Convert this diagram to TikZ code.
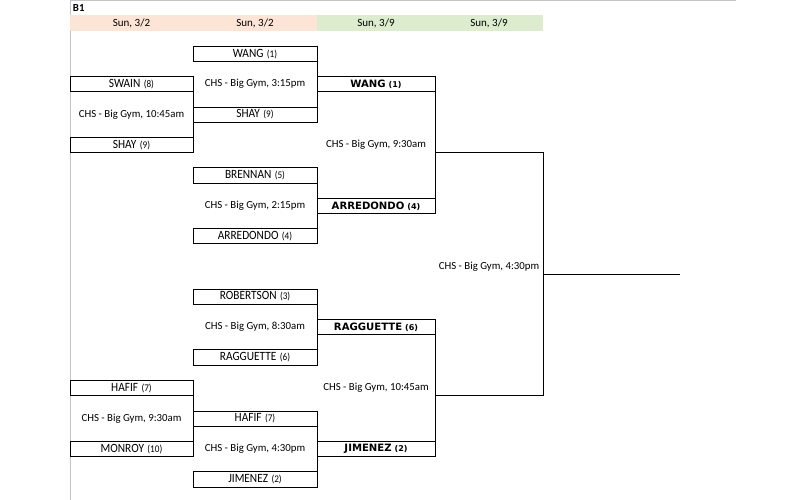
\documentclass[tikz,border=0pt]{standalone}
\usepackage{fontspec}
\setmainfont{Carlito}
\newfontfamily\boldface{DejaVu Sans}
\newfontfamily\namefont[FakeStretch=0.9]{Carlito}
\newfontfamily\seedfont[FakeStretch=0.9]{Carlito}
\definecolor{peach}{HTML}{FCE4D6}
\definecolor{pale}{HTML}{DDEBCF}
\definecolor{sheet}{HTML}{C4C4C4}
\newcommand{\nm}[2]{{\namefont\fontsize{12.6}{13}\selectfont #1}\hspace{3.4pt}{\seedfont\fontsize{10.2}{11}\selectfont (#2)}}
\newcommand{\wn}[2]{{\boldface\bfseries\fontsize{10.1}{12}\selectfont #1}\hspace{3pt}{\boldface\bfseries\fontsize{8}{10}\selectfont (#2)}}
\begin{document}
\begin{tikzpicture}[x=1pt,y=-1pt,
  line width=0.9pt,
  cbox/.style={draw=black, line width=0.9pt, minimum height=15.2pt, inner sep=0pt, anchor=center},
  w1/.style={cbox, minimum width=123pt},
  w2/.style={cbox, minimum width=124pt},
  w3/.style={cbox, minimum width=118pt},
  info/.style={inner sep=0pt, font=\fontsize{10.8}{12}\selectfont},
  hdr/.style={inner sep=0pt, font=\fontsize{11}{12}\selectfont}
]
\useasboundingbox (0,0) rectangle (805,500);
% sheet borders
\draw[sheet, line width=0.8pt] (70,0.5) -- (736,0.5);
\draw[sheet, line width=0.8pt] (70,0) -- (70,500);
% header
\node[anchor=west, inner sep=0pt, font=\bfseries\fontsize{10.8}{12}\selectfont] (title) at (72.5,8) {B1};
\fill[peach] (70.4,15) rectangle (317,31);
\fill[pale] (317,15) rectangle (543,31);
\node[hdr] (h1) at (131.5,23) {Sun, 3/2};
\node[hdr] (h2) at (255,23) {Sun, 3/2};
\node[hdr] (h3) at (376,23) {Sun, 3/9};
\node[hdr] (h4) at (489,23) {Sun, 3/9};
% column 1
\node[w1] (swain) at (131.5,84.2) {\nm{SWAIN}{8}};
\node[w1] (shayA) at (131.5,145.0) {\nm{SHAY}{9}};
\node[info] (t1a) at (131.5,114.6) {CHS - Big Gym, 10:45am};
\node[w1] (hafifA) at (131.5,388.2) {\nm{HAFIF}{7}};
\node[w1] (monroy) at (131.5,449.0) {\nm{MONROY}{10}};
\node[info] (t1b) at (131.5,418.6) {CHS - Big Gym, 9:30am};
% column 2
\node[w2] (wang) at (255,53.8) {\nm{WANG}{1}};
\node[w2] (shayB) at (255,114.6) {\nm{SHAY}{9}};
\node[info] (t2a) at (255,84.2) {CHS - Big Gym, 3:15pm};
\node[w2] (brennan) at (255,175.4) {\nm{BRENNAN}{5}};
\node[w2] (arrA) at (255,236.2) {\nm{ARREDONDO}{4}};
\node[info] (t2b) at (255,205.8) {CHS - Big Gym, 2:15pm};
\node[w2] (robertson) at (255,296.6) {\nm{ROBERTSON}{3}};
\node[w2] (raggA) at (255,357.4) {\nm{RAGGUETTE}{6}};
\node[info] (t2c) at (255,327.0) {CHS - Big Gym, 8:30am};
\node[w2] (hafifB) at (255,418.6) {\nm{HAFIF}{7}};
\node[w2] (jimA) at (255,479.4) {\nm{JIMENEZ}{2}};
\node[info] (t2d) at (255,449.0) {CHS - Big Gym, 4:30pm};
% column 3
\node[w3] (wangW) at (376,84.2) {\wn{WANG}{1}};
\node[w3] (arrW) at (376,205.8) {\wn{ARREDONDO}{4}};
\node[info] (t3a) at (376,145.0) {CHS - Big Gym, 9:30am};
\node[w3] (raggW) at (376,327.0) {\wn{RAGGUETTE}{6}};
\node[w3] (jimW) at (376,449.0) {\wn{JIMENEZ}{2}};
\node[info] (t3b) at (376,388.2) {CHS - Big Gym, 10:45am};
% column 4
\node[info] (t4) at (489,266.6) {CHS - Big Gym, 4:30pm};
% bracket lines
\draw (swain.north east) -- (shayA.south east);
\draw (hafifA.north east) -- (monroy.south east);
\draw (wang.north east) -- (shayB.south east);
\draw (brennan.north east) -- (arrA.south east);
\draw (robertson.north east) -- (raggA.south east);
\draw (hafifB.north east) -- (jimA.south east);
\draw (wangW.north east) -- (arrW.south east);
\draw (raggW.north east) -- (jimW.south east);
\coordinate (s1) at (435,152.6);
\coordinate (j1) at (543,152.6);
\coordinate (s2) at (435,395.8);
\coordinate (j2) at (543,395.8);
\coordinate (f1) at (543,274.2);
\coordinate (f2) at (680,274.2);
\draw (s1) -- (j1) -- (j2) -- (s2);
\draw (f1) -- (f2);
\end{tikzpicture}
\end{document}
